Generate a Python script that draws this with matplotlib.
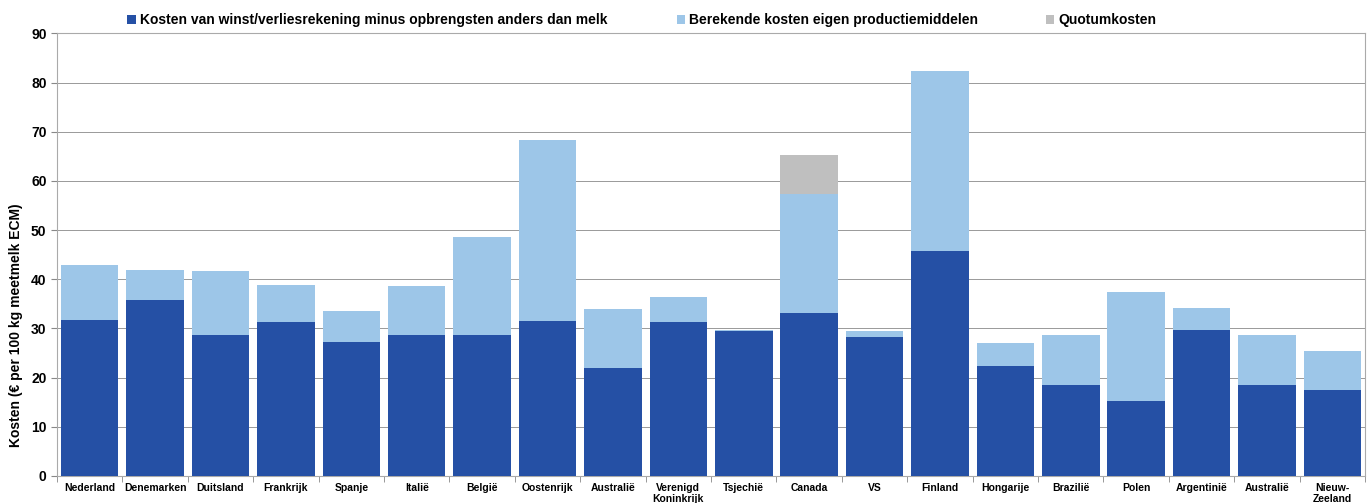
import matplotlib
matplotlib.use("Agg")
import matplotlib.pyplot as plt
from matplotlib.patches import Patch
import numpy as np

plt.rcParams['font.family'] = ['Liberation Sans', 'DejaVu Sans']

categories = ["Nederland", "Denemarken", "Duitsland", "Frankrijk", "Spanje", "Italië",
              "België", "Oostenrijk", "Australië", "Verenigd\nKoninkrijk", "Tsjechië",
              "Canada", "VS", "Finland", "Hongarije", "Brazilië", "Polen", "Argentinië",
              "Australië", "Nieuw-\nZeeland"]
kosten_wv = [31.7, 35.8, 28.7, 31.3, 27.2, 28.7, 28.7, 31.5, 22.0, 31.3, 29.5,
             33.1, 28.3, 45.7, 22.4, 18.5, 15.2, 29.7, 18.5, 17.5]
totaal_eigen = [42.9, 41.9, 41.7, 38.8, 33.5, 38.6, 48.6, 68.3, 33.9, 36.4, 29.7,
                57.3, 29.5, 82.3, 27.0, 28.7, 37.4, 34.1, 28.7, 25.4]
quotum = [0, 0, 0, 0, 0, 0, 0, 0, 0, 0, 0, 7.9, 0, 0, 0, 0, 0, 0, 0, 0]

eigen = [t - k for t, k in zip(totaal_eigen, kosten_wv)]
labels = ["Kosten van winst/verliesrekening minus opbrengsten anders dan melk",
          "Berekende kosten eigen productiemiddelen", "Quotumkosten"]
colors = ["#2550A5", "#9DC6E8", "#BFBFBF"]

fig = plt.figure(figsize=(13.72, 5.03), dpi=100)
ax = fig.add_axes([0.0415, 0.0537, 0.9535, 0.880])
x = np.arange(len(categories))
w = 0.88
ax.bar(x, kosten_wv, w, color=colors[0], label=labels[0], zorder=3)
ax.bar(x, eigen, w, bottom=kosten_wv, color=colors[1], label=labels[1], zorder=3)
ax.bar(x, quotum, w, bottom=totaal_eigen, color=colors[2], label=labels[2], zorder=3)

ax.set_xlim(-0.5, len(categories) - 0.5)
ax.set_ylim(0, 90)
ax.set_yticks(range(0, 91, 10))
ax.yaxis.grid(True, color="#999999", linewidth=0.7, zorder=0)
ax.set_xticks(x)
ax.set_xticklabels(categories, fontsize=7.5, fontweight='bold', linespacing=1.1)
ax.set_xticks(np.arange(-0.5, len(categories), 1), minor=True)
ax.tick_params(axis='x', which='major', length=0, pad=5)
ax.tick_params(axis='x', which='minor', length=4, color='#888888')
ax.tick_params(axis='y', labelsize=10, length=4, color='#888888')
for t in ax.get_yticklabels():
    t.set_fontweight('bold')
for s in ax.spines.values():
    s.set_color('#aaaaaa')
    s.set_linewidth(0.8)
ax.set_ylabel("Kosten (€ per 100 kg meetmelk ECM)", fontsize=10, fontweight='bold')
ax.yaxis.set_label_coords(-0.0256, 0.34)

xs = [0.0838, 0.484, 0.7533]
for xi, lab, col in zip(xs, labels, colors):
    fig.legend(handles=[Patch(facecolor=col, label=lab)], loc='upper left',
               bbox_to_anchor=(xi, 0.999), frameon=False,
               prop={'size': 10, 'weight': 'bold'}, handlelength=0.6,
               handleheight=0.6, handletextpad=0.3)

fig.savefig("out.png", dpi=100)
